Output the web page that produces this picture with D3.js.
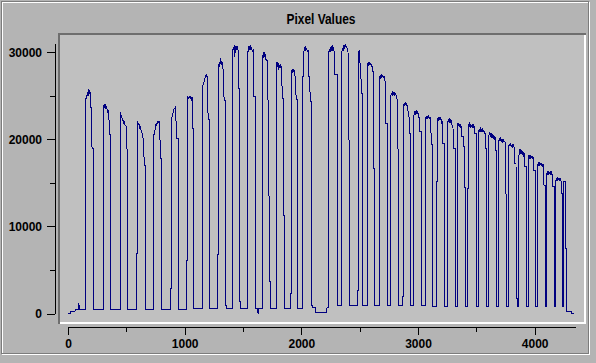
<!DOCTYPE html>
<html>
<head>
<meta charset="utf-8">
<script src="https://cdn.jsdelivr.net/npm/d3@7.9.0/dist/d3.min.js"></script>
<style>
  html, body { margin: 0; padding: 0; background: #b4b4b4; }
  svg { display: block; }
  .axis text { font: bold 12px "Liberation Sans", Arial, sans-serif; fill: #000; }
  .title { font: bold 14px "Liberation Sans", Arial, sans-serif; fill: #000; }
</style>
</head>
<body>
<div id="chart"></div>
<script>
const TITLE = 'Pixel Values';
const xDomain = [0, 4350];
const yDomain = [0, 31000];
const xMajorTicks = [0, 1000, 2000, 3000, 4000];
const xMinorTicks = [500, 1500, 2500, 3500];
const yMajorTicks = [0, 10000, 20000, 30000];
const yMinorTicks = [5000, 15000, 25000];

// [pixel index, value], pulse by pulse
const pixelSeries = [
  [0,0],[23,0],[23,280],[60,280],[62,420],[84,450],[90,500],[94,1150],[96,490],[146,490],
  [146,23860],[150,24400],[156,24800],[162,25100],[168,25300],[172,25000],[176,25600],[180,25700],[184,25200],[188,25500],[194,24900],[200,22600],[206,18970],[217,18970],[217,490],
  [240,430],[252,490],[265,430],[275,490],[300,490],
  [300,23500],[306,23800],[312,24100],[316,23600],[320,24000],[326,23500],[332,23700],[338,23200],[344,23400],[351,22400],[357,20500],[362,20500],[362,9400],[368,9400],[368,490],
  [400,490],[420,440],[446,490],
  [446,13140],[452,13140],[452,23100],[456,22500],[460,22800],[465,22200],[470,22300],[476,21900],[482,22000],[490,21600],[497,21600],[500,20800],[506,18770],[512,18770],[512,490],
  [540,490],[545,430],[560,490],[591,490],
  [591,6930],[598,6930],[598,22140],[603,21600],[608,21800],[614,21300],[620,21400],[628,20900],[636,20700],[643,20110],[649,18390],[657,17050],[664,17050],[664,490],
  [700,490],[737,490],
  [737,20500],[743,20500],[749,21640],[755,21800],[760,21500],[766,22000],[772,21900],[780,22100],[786,20870],[795,17820],[804,17820],[804,490],
  [830,460],[850,490],[880,490],
  [880,2870],[885,2870],[885,21950],[890,22500],[895,22700],[900,23000],[905,23200],[910,23600],[916,23500],[923,23860],[929,20110],[943,20110],[943,490],
  [975,490],[1015,490],
  [1015,6130],[1023,6130],[1023,24710],[1028,24900],[1034,24600],[1040,25000],[1046,24700],[1052,24900],[1058,24600],[1063,24800],[1069,21260],[1077,21260],[1077,550],
  [1110,550],[1149,550],
  [1149,25860],[1155,26100],[1160,26400],[1166,26600],[1172,26900],[1178,27200],[1182,27000],[1186,27470],[1192,27200],[1196,23940],[1204,22220],[1214,22220],[1214,550],
  [1250,550],[1280,550],
  [1280,6820],[1286,6820],[1286,28230],[1292,28600],[1297,28300],[1302,28900],[1306,28700],[1309,29310],[1314,28800],[1320,28600],[1326,28900],[1332,27010],[1337,24900],[1343,24500],[1352,24500],[1352,950],
  [1360,950],[1360,570],[1409,570],
  [1409,7850],[1413,7850],[1413,30260],[1418,30600],[1422,30300],[1426,30800],[1430,29490],[1434,30500],[1440,30700],[1446,30300],[1452,30600],[1457,30500],[1463,25860],[1472,25860],[1472,1330],
  [1480,1330],[1480,550],[1538,550],
  [1538,29490],[1544,30200],[1550,30600],[1556,30400],[1562,30800],[1568,30300],[1574,30500],[1580,30100],[1586,30300],[1590,30000],[1594,24900],[1604,24900],[1604,550],
  [1625,550],[1629,0],[1632,550],[1663,550],
  [1663,29310],[1668,29700],[1674,29300],[1680,30000],[1686,29500],[1692,29800],[1698,29000],[1704,29200],[1708,28900],[1712,26050],[1720,20870],[1727,3630],[1733,3630],[1733,550],
  [1760,550],[1786,550],
  [1786,28540],[1791,28900],[1796,28300],[1801,28700],[1806,28000],[1812,28500],[1818,28200],[1824,28600],[1830,28000],[1838,24710],[1845,24710],[1849,11300],[1852,11300],[1852,550],
  [1880,550],[1909,550],
  [1909,2300],[1913,2300],[1913,27590],[1918,28000],[1923,27600],[1928,28100],[1933,27700],[1938,27900],[1944,27500],[1950,26820],[1956,24520],[1963,24520],[1963,4100],[1968,4100],[1968,550],
  [1990,550],[2014,550],
  [2014,27200],[2020,27200],[2022,30070],[2028,30400],[2034,30700],[2040,30200],[2046,30500],[2052,30000],[2058,30300],[2064,27200],[2072,27200],[2076,24320],[2086,24320],[2086,950],
  [2094,950],[2094,640],[2124,640],[2124,115],[2215,115],[2220,640],[2234,640],
  [2234,29890],[2240,30300],[2246,30000],[2252,30600],[2258,30200],[2264,30800],[2270,30300],[2276,30500],[2282,29900],[2288,27390],[2306,27390],[2306,900],
  [2330,900],[2348,900],
  [2348,30070],[2354,30500],[2360,30200],[2366,30800],[2372,30400],[2378,30900],[2384,30500],[2390,30700],[2396,30100],[2400,30000],[2404,27600],[2409,19350],[2414,19350],[2414,900],
  [2450,900],[2482,900],
  [2482,2680],[2486,2680],[2486,29690],[2490,30100],[2494,29800],[2498,30200],[2500,30000],[2503,28740],[2508,28700],[2515,25290],[2523,25290],[2523,900],
  [2545,900],[2563,900],
  [2563,28340],[2569,28700],[2575,28400],[2581,28900],[2587,28500],[2593,28800],[2599,28400],[2605,28600],[2609,27770],[2615,27770],[2620,16670],[2629,16670],[2629,900],
  [2650,900],[2666,900],
  [2666,26820],[2672,27200],[2678,26900],[2684,27500],[2690,27100],[2696,27400],[2702,27000],[2708,27300],[2714,26900],[2720,26440],[2723,21840],[2740,21840],[2740,900],
  [2755,900],[2766,900],
  [2766,24900],[2772,25300],[2778,25000],[2784,25500],[2790,25100],[2796,25400],[2802,25000],[2808,25300],[2814,24900],[2820,24700],[2826,22220],[2832,14940],[2837,14940],[2837,900],
  [2855,900],[2871,900],
  [2871,2000],[2875,2000],[2875,23750],[2880,24100],[2885,23800],[2890,24300],[2895,23900],[2901,24200],[2907,23700],[2912,23900],[2917,22600],[2923,22600],[2929,20690],[2937,20690],[2937,900],
  [2955,900],[2965,900],
  [2965,22790],[2971,23100],[2977,22800],[2983,23300],[2989,22900],[2995,23200],[3001,22800],[3007,23000],[3014,20870],[3030,20870],[3030,900],
  [3045,900],[3060,900],
  [3060,20500],[3066,20500],[3066,22600],[3072,22300],[3078,22700],[3084,22400],[3090,22800],[3096,22300],[3102,22600],[3108,22200],[3115,19350],[3128,19350],[3128,780],
  [3145,780],[3158,780],
  [3158,15130],[3166,15130],[3166,22220],[3172,22500],[3178,22100],[3184,22600],[3190,22200],[3196,22500],[3202,21900],[3208,22100],[3214,19540],[3223,19540],[3223,780],
  [3236,780],[3249,780],
  [3249,21450],[3255,21900],[3261,22300],[3267,21900],[3273,22400],[3279,21900],[3285,22200],[3291,21700],[3300,21260],[3308,18970],[3320,18970],[3320,780],
  [3330,780],[3338,780],
  [3338,21840],[3344,21500],[3350,21900],[3356,21400],[3362,21800],[3368,21300],[3374,21500],[3377,20300],[3388,20300],[3394,19150],[3400,19150],[3403,14370],[3410,14370],[3410,780],
  [3420,780],[3428,780],
  [3428,14370],[3435,14370],[3435,21640],[3441,21800],[3447,21300],[3453,21700],[3459,21400],[3465,21800],[3471,21300],[3477,21600],[3483,21400],[3488,20690],[3505,20690],[3505,780],
  [3512,780],[3520,780],
  [3520,20870],[3526,21200],[3532,20800],[3538,21400],[3544,20900],[3550,21300],[3556,20800],[3562,21100],[3568,20700],[3574,20900],[3578,18970],[3585,18970],[3585,5750],[3590,5750],[3590,780],
  [3600,780],[3608,780],
  [3608,20500],[3614,20800],[3620,20300],[3626,20700],[3632,20200],[3638,20600],[3644,20100],[3650,20400],[3656,20100],[3662,20300],[3666,18770],[3671,18770],[3671,11680],[3676,11680],[3676,780],
  [3684,780],[3691,780],
  [3691,19720],[3697,20000],[3703,19800],[3709,20100],[3715,19800],[3721,20000],[3727,19700],[3733,19900],[3739,19700],[3745,19800],[3752,18570],[3757,8620],[3762,8620],[3762,780],
  [3770,780],[3777,780],
  [3777,19150],[3783,19400],[3789,19200],[3795,19500],[3801,19200],[3807,19400],[3813,19100],[3819,19300],[3825,19000],[3831,17240],[3840,17240],[3845,1760],[3850,1760],[3850,780],
  [3857,780],[3863,780],
  [3863,18000],[3869,18500],[3875,18900],[3881,18300],[3887,18800],[3893,18200],[3899,18600],[3905,18200],[3910,18400],[3914,16850],[3929,16850],[3929,780],
  [3936,780],[3943,780],
  [3943,17820],[3949,18100],[3955,17800],[3961,18200],[3967,17800],[3973,18100],[3979,17700],[3985,18000],[3990,17800],[3994,16470],[4007,16470],[4007,780],
  [4013,780],[4020,780],
  [4020,16850],[4026,17200],[4032,16900],[4038,17400],[4044,16900],[4050,17300],[4056,16900],[4062,17200],[4068,16900],[4074,17000],[4080,14750],[4090,14750],[4090,780],
  [4096,780],[4103,780],
  [4103,15900],[4109,16300],[4115,15900],[4121,16400],[4127,16000],[4133,16300],[4139,15900],[4145,16200],[4151,15900],[4157,14550],[4167,14550],[4167,780],
  [4174,780],[4180,780],
  [4180,15130],[4186,15500],[4192,15200],[4198,15700],[4204,15300],[4210,15600],[4216,15200],[4222,15500],[4228,15100],[4234,13790],[4241,13790],[4241,780],
  [4249,780],[4249,15130],[4263,15130],[4266,7470],[4272,7470],[4272,180],[4318,180],[4318,0],[4337,0]
];

const width = 596, height = 363;
const svg = d3.select('#chart').append('svg')
  .attr('width', width)
  .attr('height', height);

// ------- window frame (etched) -------
svg.append('rect').attr('width', width).attr('height', height).attr('fill', '#b4b4b4');
svg.append('rect')
  .attr('x', 2.5).attr('y', 2.5).attr('width', 587).attr('height', 352)
  .attr('fill', 'none').attr('stroke', '#ffffff');
svg.append('rect')
  .attr('x', 1.5).attr('y', 1.5).attr('width', 587).attr('height', 352)
  .attr('fill', 'none').attr('stroke', '#7c7c7c');

// ------- title -------
svg.append('text')
  .attr('class', 'title')
  .attr('x', 321).attr('y', 24)
  .attr('text-anchor', 'middle')
  .attr('textLength', 69)
  .attr('lengthAdjust', 'spacingAndGlyphs')
  .text(TITLE);

// ------- plot area with sunken bevel -------
const box = { x: 58, y: 33, w: 528, h: 291 };
svg.append('rect').attr('x', box.x).attr('y', box.y).attr('width', box.w).attr('height', box.h).attr('fill', '#c0c0c0');
svg.append('rect').attr('x', box.x).attr('y', box.y + box.h - 2).attr('width', box.w).attr('height', 2).attr('fill', '#ffffff');
svg.append('rect').attr('x', box.x + box.w - 2).attr('y', box.y).attr('width', 2).attr('height', box.h).attr('fill', '#ffffff');
svg.append('rect').attr('x', box.x).attr('y', box.y).attr('width', box.w).attr('height', 2).attr('fill', '#6e6e6e');
svg.append('rect').attr('x', box.x).attr('y', box.y).attr('width', 2).attr('height', box.h).attr('fill', '#6e6e6e');

// ------- scales & axes -------
const x = d3.scaleLinear().domain(xDomain).range([68, 575.5]);
const y = d3.scaleLinear().domain(yDomain).range([313.5, 43.5]);

const xAxis = svg.append('g')
  .attr('class', 'axis')
  .attr('transform', 'translate(0,327)')
  .call(d3.axisBottom(x).tickValues(xMajorTicks).tickSize(8).tickSizeOuter(0).tickPadding(4).tickFormat(d3.format('d')));
svg.append('g')
  .attr('transform', 'translate(0,327)')
  .call(d3.axisBottom(x).tickValues(xMinorTicks).tickSize(5).tickFormat(''))
  .call(g => g.select('.domain').remove());

svg.append('g')
  .attr('class', 'axis')
  .attr('transform', 'translate(55,0)')
  .call(d3.axisLeft(y).tickValues(yMajorTicks).tickSize(8).tickSizeOuter(0).tickPadding(5).tickFormat(d3.format('d')));
svg.append('g')
  .attr('transform', 'translate(55,0)')
  .call(d3.axisLeft(y).tickValues(yMinorTicks).tickSize(5).tickFormat(''))
  .call(g => g.select('.domain').remove());

svg.selectAll('.domain, .tick line').attr('stroke', '#000').attr('shape-rendering', 'crispEdges');

// ------- trace -------
const line = d3.line()
  .x(d => x(d[0]))
  .y(d => y(d[1]));

svg.append('path')
  .datum(pixelSeries)
  .attr('d', line)
  .attr('fill', 'none')
  .attr('stroke', '#000080')
  .attr('stroke-width', 1)
  .attr('shape-rendering', 'crispEdges');
</script>
</body>
</html>
